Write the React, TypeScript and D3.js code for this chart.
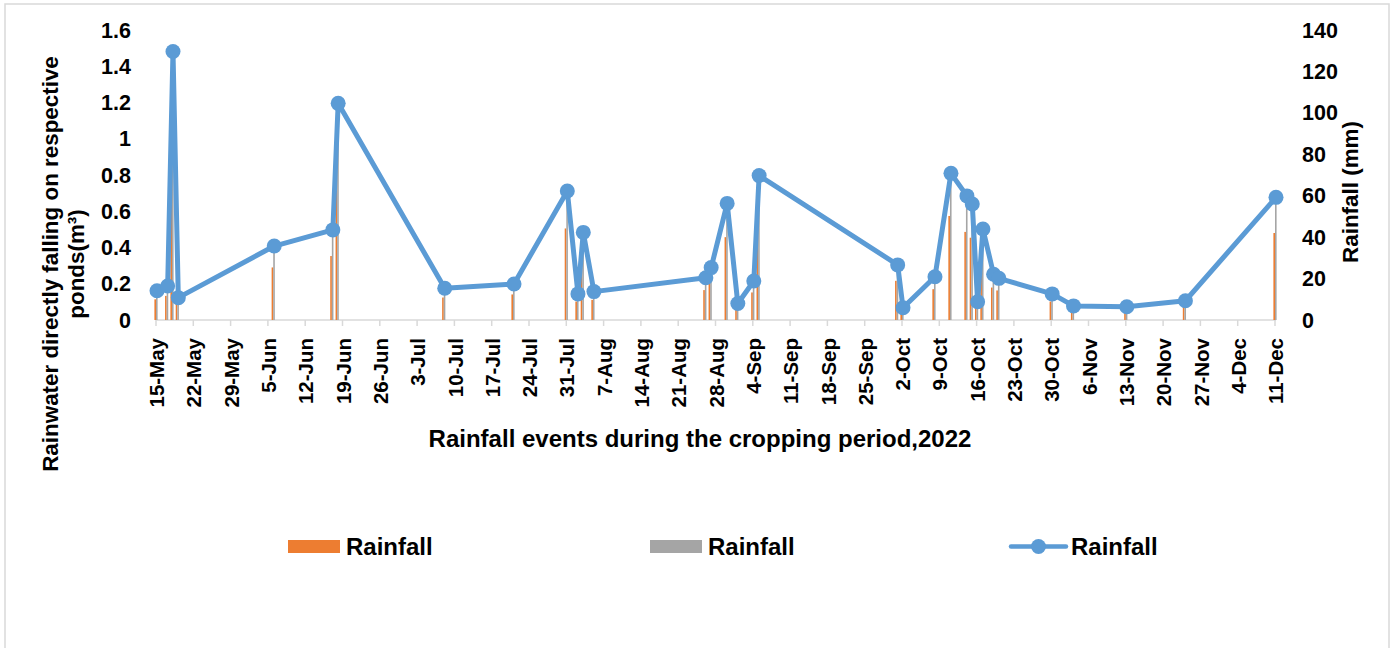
import React, { useEffect, useRef } from 'react';
import { select, scaleLinear, scaleTime, timeParse, line } from 'd3';

const WIDTH = 1397;
const HEIGHT = 648;
const MARGIN = { TOP: 30, BOTTOM: 320, LEFT: 156, RIGHT: 1275 };
const FONT = '"Liberation Sans", Arial, sans-serif';

// rainfall events (2022)
const eventDates = [
  '2022-05-15', '2022-05-17', '2022-05-18', '2022-05-19', '2022-06-06', '2022-06-17',
  '2022-06-18', '2022-07-08', '2022-07-21', '2022-07-31', '2022-08-02', '2022-08-03',
  '2022-08-05', '2022-08-26', '2022-08-27', '2022-08-30', '2022-09-01', '2022-09-04',
  '2022-09-05', '2022-10-01', '2022-10-02', '2022-10-08', '2022-10-11', '2022-10-14',
  '2022-10-15', '2022-10-16', '2022-10-17', '2022-10-19', '2022-10-20', '2022-10-30',
  '2022-11-03', '2022-11-13', '2022-11-24', '2022-12-11',
];
// rainfall (mm), right axis
const rainfallMm = [
  14.1, 16.4, 129.6, 10.8, 35.7, 43.5, 104.6, 15.3, 17.4, 62.3, 12.6, 42.3, 13.7, 20.4,
  25.3, 56.3, 8.0, 18.8, 69.7, 26.6, 5.9, 20.9, 70.8, 59.9, 56.0, 8.8, 43.9, 22.1, 20.1,
  12.6, 6.8, 6.4, 9.3, 59.2,
];
// rainwater on ponds (m3), left axis - orange series
const pondOrange = [
  0.114, 0.133, 1.051, 0.088, 0.29, 0.353, 0.848, 0.124, 0.141, 0.505, 0.102, 0.343,
  0.111, 0.165, 0.205, 0.457, 0.065, 0.152, 0.565, 0.216, 0.048, 0.17, 0.574, 0.486,
  0.454, 0.071, 0.356, 0.179, 0.163, 0.102, 0.055, 0.052, 0.075, 0.48,
];
// rainwater on ponds (m3), left axis - gray series
const pondGray = [
  0.161, 0.187, 1.481, 0.123, 0.408, 0.497, 1.195, 0.175, 0.199, 0.712, 0.144, 0.483,
  0.157, 0.233, 0.289, 0.643, 0.091, 0.215, 0.797, 0.304, 0.067, 0.239, 0.809, 0.685,
  0.64, 0.101, 0.502, 0.253, 0.23, 0.144, 0.078, 0.073, 0.106, 0.677,
];

const leftTicks = [0, 0.2, 0.4, 0.6, 0.8, 1, 1.2, 1.4, 1.6];
const rightTicks = [0, 20, 40, 60, 80, 100, 120, 140];
const dateLabels = [
  '15-May', '22-May', '29-May', '5-Jun', '12-Jun', '19-Jun', '26-Jun', '3-Jul', '10-Jul',
  '17-Jul', '24-Jul', '31-Jul', '7-Aug', '14-Aug', '21-Aug', '28-Aug', '4-Sep', '11-Sep',
  '18-Sep', '25-Sep', '2-Oct', '9-Oct', '16-Oct', '23-Oct', '30-Oct', '6-Nov', '13-Nov',
  '20-Nov', '27-Nov', '4-Dec', '11-Dec',
];

const ORANGE = '#ED7D31';
const GRAY = '#A5A5A5';
const BLUE = '#5B9BD5';
const AXIS = '#D9D9D9';

const parseDay = timeParse('%Y-%m-%d');
const parseLabel = timeParse('%d-%b-%Y');

export default function App(): JSX.Element {
  const svgRef = useRef<SVGSVGElement>(null);

  useEffect(() => {
    const svg = select(svgRef.current);
    svg.selectAll('*').remove();

    const dates = eventDates.map((d) => parseDay(d) as Date);
    const tickDates = dateLabels.map((l) => parseLabel(`${l}-2022`) as Date);

    const x = scaleTime()
      .domain([tickDates[0], tickDates[tickDates.length - 1]])
      .range([MARGIN.LEFT, MARGIN.RIGHT]);
    const yLeft = scaleLinear().domain([0, 1.6]).range([MARGIN.BOTTOM, MARGIN.TOP]);
    const yRight = scaleLinear().domain([0, 140]).range([MARGIN.BOTTOM, MARGIN.TOP]);

    // chart border
    svg
      .append('rect')
      .attr('x', 5)
      .attr('y', 4)
      .attr('width', 1384)
      .attr('height', 700)
      .attr('fill', 'none')
      .attr('stroke', AXIS)
      .attr('stroke-width', 1.5);

    // x axis line + ticks
    const axisG = svg.append('g');
    axisG
      .append('line')
      .attr('x1', MARGIN.LEFT)
      .attr('x2', MARGIN.RIGHT + 1)
      .attr('y1', MARGIN.BOTTOM)
      .attr('y2', MARGIN.BOTTOM)
      .attr('stroke', AXIS)
      .attr('stroke-width', 1.5);
    axisG
      .selectAll('line.tick')
      .data(tickDates)
      .enter()
      .append('line')
      .attr('class', 'tick')
      .attr('x1', (d) => x(d))
      .attr('x2', (d) => x(d))
      .attr('y1', MARGIN.BOTTOM)
      .attr('y2', MARGIN.BOTTOM + 6)
      .attr('stroke', AXIS)
      .attr('stroke-width', 1.5);
    axisG
      .selectAll('text')
      .data(tickDates)
      .enter()
      .append('text')
      .attr('transform', (d) => `translate(${x(d) + 1}, ${MARGIN.BOTTOM + 18}) rotate(-90)`)
      .attr('text-anchor', 'end')
      .attr('dy', '0.35em')
      .attr('font-family', FONT)
      .attr('font-weight', 'bold')
      .attr('font-size', 20.5)
      .text((d, i) => dateLabels[i]);

    // left axis labels
    svg
      .append('g')
      .selectAll('text')
      .data(leftTicks)
      .enter()
      .append('text')
      .attr('x', 131)
      .attr('y', (d) => yLeft(d))
      .attr('dy', '0.35em')
      .attr('text-anchor', 'end')
      .attr('font-family', FONT)
      .attr('font-weight', 'bold')
      .attr('font-size', 21.5)
      .text((d) => String(d));

    // right axis labels
    svg
      .append('g')
      .selectAll('text')
      .data(rightTicks)
      .enter()
      .append('text')
      .attr('x', 1302)
      .attr('y', (d) => yRight(d))
      .attr('dy', '0.35em')
      .attr('text-anchor', 'start')
      .attr('font-family', FONT)
      .attr('font-weight', 'bold')
      .attr('font-size', 21.5)
      .text((d) => String(d));

    // bars
    const barW = 1.6;
    svg
      .append('g')
      .selectAll('rect')
      .data(pondOrange)
      .enter()
      .append('rect')
      .attr('x', (d, i) => x(dates[i]) - barW)
      .attr('y', (d) => yLeft(d))
      .attr('width', barW)
      .attr('height', (d) => MARGIN.BOTTOM - yLeft(d))
      .attr('fill', ORANGE);
    svg
      .append('g')
      .selectAll('rect')
      .data(pondGray)
      .enter()
      .append('rect')
      .attr('x', (d, i) => x(dates[i]))
      .attr('y', (d) => yLeft(d))
      .attr('width', barW)
      .attr('height', (d) => MARGIN.BOTTOM - yLeft(d))
      .attr('fill', GRAY);

    // rainfall line
    const lineGen = line<number>()
      .x((d, i) => x(dates[i]) + 1)
      .y((d) => yRight(d));
    svg
      .append('path')
      .datum(rainfallMm)
      .attr('d', lineGen)
      .attr('fill', 'none')
      .attr('stroke', BLUE)
      .attr('stroke-width', 5)
      .attr('stroke-linejoin', 'round');
    svg
      .append('g')
      .selectAll('circle')
      .data(rainfallMm)
      .enter()
      .append('circle')
      .attr('cx', (d, i) => x(dates[i]) + 1)
      .attr('cy', (d) => yRight(d))
      .attr('r', 7.5)
      .attr('fill', BLUE);

    // axis titles
    const leftTitle = svg
      .append('text')
      .attr('transform', 'translate(0, 264) rotate(-90)')
      .attr('text-anchor', 'middle')
      .attr('font-family', FONT)
      .attr('font-weight', 'bold')
      .attr('font-size', 22.4);
    leftTitle.append('tspan').attr('x', 0).attr('y', 58).text('Rainwater directly falling on respective');
    leftTitle.append('tspan').attr('x', 0).attr('y', 84).text('ponds(m³)');

    svg
      .append('text')
      .attr('transform', 'translate(1358, 192) rotate(-90)')
      .attr('text-anchor', 'middle')
      .attr('font-family', FONT)
      .attr('font-weight', 'bold')
      .attr('font-size', 22.4)
      .text('Rainfall (mm)');

    svg
      .append('text')
      .attr('x', 700)
      .attr('y', 447)
      .attr('text-anchor', 'middle')
      .attr('font-family', FONT)
      .attr('font-weight', 'bold')
      .attr('font-size', 24)
      .text('Rainfall events during the cropping period,2022');

    // legend
    const legend = svg.append('g').attr('font-family', FONT).attr('font-weight', 'bold').attr('font-size', 24);
    legend.append('rect').attr('x', 288).attr('y', 540).attr('width', 52).attr('height', 13).attr('fill', ORANGE);
    legend.append('text').attr('x', 346).attr('y', 555).text('Rainfall');
    legend.append('rect').attr('x', 650).attr('y', 540).attr('width', 52).attr('height', 13).attr('fill', GRAY);
    legend.append('text').attr('x', 708).attr('y', 555).text('Rainfall');
    legend
      .append('line')
      .attr('x1', 1011)
      .attr('x2', 1066)
      .attr('y1', 546.5)
      .attr('y2', 546.5)
      .attr('stroke', BLUE)
      .attr('stroke-width', 4.5)
      .attr('stroke-linecap', 'round');
    legend.append('circle').attr('cx', 1038.5).attr('cy', 546.5).attr('r', 7.5).attr('fill', BLUE);
    legend.append('text').attr('x', 1071).attr('y', 555).text('Rainfall');
  }, []);

  return (
    <>
      <style>{'body{margin:0;}'}</style>
      <svg ref={svgRef} width={WIDTH} height={HEIGHT} style={{ display: 'block', background: '#fff' }} />
    </>
  );
}
